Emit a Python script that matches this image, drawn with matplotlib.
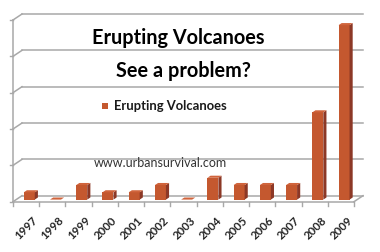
import matplotlib
matplotlib.use("Agg")
import matplotlib.pyplot as plt
from matplotlib.patches import Polygon, Rectangle
import numpy as np

years = ["1997", "1998", "1999", "2000", "2001", "2002", "2003",
         "2004", "2005", "2006", "2007", "2008", "2009"]
erupting = [1, 0, 2, 1, 1, 2, 0, 3, 2, 2, 2, 12, 24]
y_ticks = [0, 5, 10, 15, 20, 25]
title_lines = ["Erupting Volcanoes", "See a problem?"]
legend_label = "Erupting Volcanoes"
watermark = "www.urbansurvival.com"

W, H = 380, 252
fig = plt.figure(figsize=(W / 100, H / 100), dpi=100)
fig.patch.set_facecolor("white")

left_px, floor_px, right_px = 13, 201.7, 354
unit_px = 7.268
ax = fig.add_axes([left_px / W, (H - floor_px) / H,
                   (right_px - left_px) / W, 25 * unit_px / H])
ax.set_xlim(-0.5, len(years) - 0.5)
ax.set_ylim(0, 25)
ax.axis("off")

slot_px = (right_px - left_px) / len(years)
dxd = 9 / slot_px       # depth offset in data units (x)
dyd = 6 / unit_px       # depth offset in data units (y)
grid_c = "#a8a8a8"
xmin, xmax = -0.5, len(years) - 0.5

# back wall gridlines + left diagonals
for v in y_ticks:
    ax.plot([xmin + dxd, xmax + dxd], [v + dyd, v + dyd], color=grid_c,
            lw=1.1, clip_on=False, zorder=1)
    ax.plot([xmin, xmin + dxd], [v, v + dyd], color=grid_c, lw=1.1,
            clip_on=False, zorder=1)
    ax.plot([xmin - 3 / slot_px, xmin], [v, v], color=grid_c, lw=1.0,
            clip_on=False, zorder=1)
ax.plot([xmin, xmin], [0, 25], color=grid_c, lw=1.1, clip_on=False, zorder=1)
ax.plot([xmin, xmax], [0, 0], color=grid_c, lw=1.1, clip_on=False, zorder=1)
ax.plot([xmax, xmax + dxd], [0, dyd], color=grid_c, lw=1.1, clip_on=False, zorder=1)
for b in np.arange(xmin, xmax + 0.01, 1.0):
    ax.plot([b, b], [0, -4.5 / unit_px], color=grid_c, lw=1.0,
            clip_on=False, zorder=1)

# 3D-ish bars
f1, f2 = 0.35, 0.70
bw = 11 / slot_px
front_c, side_c, top_c = "#c4582f", "#8c3826", "#d0643c"
x = np.arange(len(years))
ox, oy = f1 * dxd, f1 * dyd
ddx, ddy = (f2 - f1) * dxd, (f2 - f1) * dyd
ax.bar(x + ox, erupting, width=bw, bottom=oy, color=front_c, zorder=3,
       linewidth=0)
for xi, v in zip(x, erupting):
    l = xi + ox - bw / 2
    r = xi + ox + bw / 2
    b = oy
    t = oy + v
    ax.add_patch(Polygon([(r, b), (r, t), (r + ddx, t + ddy), (r + ddx, b + ddy)],
                         closed=True, facecolor=side_c, edgecolor="none",
                         zorder=3, clip_on=False))
    ax.add_patch(Polygon([(l, t), (r, t), (r + ddx, t + ddy), (l + ddx, t + ddy)],
                         closed=True, facecolor=top_c, edgecolor="none",
                         zorder=3, clip_on=False))

# x tick labels
for xi, lab in zip(x, years):
    ax.annotate(lab, xy=(xi, 0), xytext=(6, -13), textcoords="offset pixels",
                rotation=45, ha="right", va="top", fontsize=8.3,
                fontweight="bold", family="Lato", color="#262626",
                rotation_mode="anchor", annotation_clip=False)

# titles
fig.text(178 / W, 1 - 38 / H, title_lines[0], ha="center", va="center",
         fontsize=14.3, fontweight="bold", family="Lato", color="black")
fig.text(183 / W, 1 - 71 / H, title_lines[1], ha="center", va="center",
         fontsize=14.3, fontweight="bold", family="Lato", color="black")

# legend
fig.patches.append(Rectangle((102 / W, 1 - 109 / H), 6 / W, 6 / H,
                             transform=fig.transFigure, facecolor=front_c,
                             edgecolor="none"))
fig.text(114 / W, 1 - 106 / H, legend_label, ha="left", va="center",
         fontsize=9.4, fontweight="bold", family="Lato", color="#1a1a1a")

# watermark
fig.text(160 / W, 1 - 163 / H, watermark, ha="center", va="center",
         fontsize=9, family="Lato", color="#333333")

fig.savefig("out.png", dpi=100, facecolor="white")
